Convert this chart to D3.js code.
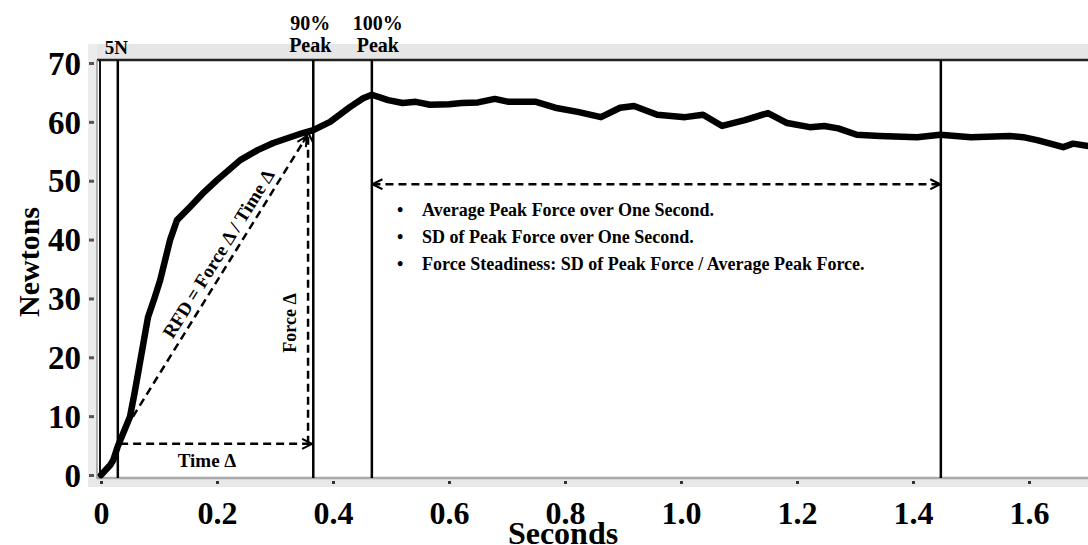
<!DOCTYPE html>
<html>
<head>
<meta charset="utf-8">
<script src="https://cdn.jsdelivr.net/npm/d3@7"></script>
<style>
  body { margin: 0; background: #fff; }
  svg { display: block; }
  text { font-family: "Liberation Serif", "Times New Roman", serif; font-weight: bold; fill: #000; }
</style>
</head>
<body>
<svg width="1088" height="545"></svg>
<script>
// force trace
const seconds = [0, 0.016, 0.021, 0.029, 0.04, 0.05, 0.058, 0.067, 0.081, 0.092, 0.102, 0.119, 0.131,
  0.153, 0.175, 0.2, 0.24, 0.27, 0.297, 0.348, 0.366, 0.395, 0.429, 0.452, 0.467, 0.495, 0.52,
  0.543, 0.567, 0.6, 0.622, 0.65, 0.679, 0.703, 0.75, 0.783, 0.822, 0.862, 0.895, 0.919, 0.959,
  1.007, 1.038, 1.071, 1.11, 1.15, 1.183, 1.222, 1.247, 1.271, 1.303, 1.343, 1.407, 1.447, 1.5,
  1.567, 1.59, 1.614, 1.64, 1.659, 1.676, 1.702];
const newtons = [0, 1.7, 2.5, 4.9, 7.5, 9.9, 14, 19, 26.8, 30, 33.1, 39.9, 43.3,
  45.5, 47.8, 50.1, 53.5, 55.2, 56.4, 58.1, 58.6, 60, 62.5, 64, 64.6, 63.7, 63.2,
  63.4, 62.9, 63, 63.2, 63.3, 63.9, 63.4, 63.4, 62.4, 61.7, 60.8, 62.4, 62.7, 61.2,
  60.8, 61.2, 59.3, 60.3, 61.5, 59.8, 59.1, 59.3, 58.9, 57.8, 57.6, 57.4, 57.8, 57.4,
  57.6, 57.4, 56.9, 56.2, 55.7, 56.3, 55.9];

const xTicks = [0, 0.2, 0.4, 0.6, 0.8, 1.0, 1.2, 1.4, 1.6];
const xTickLabels = ["0", "0.2", "0.4", "0.6", "0.8", "1.0", "1.2", "1.4", "1.6"];
const yTicks = [0, 10, 20, 30, 40, 50, 60, 70];

// vertical markers: 5N onset, 90% peak, 100% peak, peak + one second
const markerTimes = [0.029, 0.366, 0.467, 1.448];
const markerLabels = [["5N"], ["90%", "Peak"], ["100%", "Peak"], []];

const onset = { t: 0.033, n: 5.3 };
const rfdStart = { t: 0.055, n: 9.9 };
const rfdEnd = { t: 0.355, n: 57.6 };
const forceDeltaT = 0.357;
const ninetyPeak = { t: 0.364, n: 58.2 };
const windowSpan = { t0: 0.468, t1: 1.447, n: 49.4 };

const bullets = [
  "Average Peak Force over One Second.",
  "SD of Peak Force over One Second.",
  "Force Steadiness: SD of Peak Force / Average Peak Force."
];

const svg = d3.select("svg");
const x = d3.scaleLinear().domain([0, 1.7]).range([101, 1087]);
const y = d3.scaleLinear().domain([0, 70]).range([475, 63]);

// grey frame bands
svg.append("rect").attr("x", 88).attr("y", 44).attr("width", 1000).attr("height", 15).attr("fill", "#e6e6e6");
svg.append("rect").attr("x", 88).attr("y", 44).attr("width", 9).attr("height", 443).attr("fill", "#ececec");
svg.append("rect").attr("x", 88).attr("y", 479).attr("width", 1000).attr("height", 8).attr("fill", "#e8e8e8");

svg.append("line").attr("x1", 97).attr("x2", 1088).attr("y1", 60).attr("y2", 60)
  .attr("stroke", "#222").attr("stroke-width", 2.5);
svg.append("line").attr("x1", 97).attr("x2", 97).attr("y1", 60).attr("y2", 479)
  .attr("stroke", "#999").attr("stroke-width", 1.5);
svg.append("line").attr("x1", 100).attr("x2", 100).attr("y1", 60).attr("y2", 478)
  .attr("stroke", "#111").attr("stroke-width", 2);
svg.append("line").attr("x1", 97).attr("x2", 1088).attr("y1", 478).attr("y2", 478)
  .attr("stroke", "#aaa").attr("stroke-width", 2.5);

// axes
const yAxis = svg.append("g").attr("transform", "translate(94,0)")
  .call(d3.axisLeft(y).tickValues(yTicks).tickSize(5).tickPadding(8));
yAxis.select(".domain").remove();
yAxis.selectAll(".tick line").attr("stroke", "#555").attr("stroke-width", 3);
yAxis.selectAll(".tick text").style("font-size", "33px").attr("dy", "0.34em");

const xAxis = svg.append("g").attr("transform", "translate(0,481)")
  .call(d3.axisBottom(x).tickValues(xTicks).tickFormat((d, i) => xTickLabels[i]).tickSize(3).tickPadding(17));
xAxis.select(".domain").remove();
xAxis.selectAll(".tick line").attr("stroke", "#333").attr("stroke-width", 3);
xAxis.selectAll(".tick text").style("font-size", "32px");

svg.append("text").attr("x", 563).attr("y", 544).attr("text-anchor", "middle")
  .style("font-size", "32px").text("Seconds");
svg.append("text").attr("transform", "translate(39,262) rotate(-90)").attr("text-anchor", "middle")
  .style("font-size", "30px").text("Newtons");

// markers
svg.selectAll(".marker").data(markerTimes).enter().append("line")
  .attr("x1", d => x(d)).attr("x2", d => x(d)).attr("y1", 60).attr("y2", 478)
  .attr("stroke", "#000").attr("stroke-width", 2.5);

const labelOffsets = [[6, "start"], [-3, "middle"], [6, "middle"], [0, "middle"]];
markerLabels.forEach((lines, i) => {
  const [dx, anchor] = labelOffsets[i];
  const xx = i === 0 ? x(markerTimes[i]) - 13 : x(markerTimes[i]) + dx;
  lines.slice().reverse().forEach((txt, j) => {
    svg.append("text").attr("x", xx).attr("y", (i === 0 ? 54 : 52) - j * 22)
      .attr("text-anchor", anchor).style("font-size", i === 0 ? "19px" : "20px").text(txt);
  });
});

// force trace
svg.append("path")
  .datum(seconds.map((t, i) => [t, newtons[i]]))
  .attr("fill", "none").attr("stroke", "#000").attr("stroke-width", 6.5)
  .attr("stroke-linejoin", "round").attr("stroke-linecap", "round")
  .attr("d", d3.line().x(d => x(d[0])).y(d => y(d[1])));

// arrow heads
const defs = svg.append("defs");
defs.append("marker").attr("id", "head").attr("viewBox", "0 0 12 12")
  .attr("refX", 11).attr("refY", 6).attr("markerWidth", 12).attr("markerHeight", 12)
  .attr("markerUnits", "userSpaceOnUse").attr("orient", "auto-start-reverse")
  .append("path").attr("d", "M1,1 L11,6 L1,11").attr("fill", "none").attr("stroke", "#000").attr("stroke-width", 2);

function dashed(x1, y1, x2, y2, start) {
  const l = svg.append("line").attr("x1", x1).attr("y1", y1).attr("x2", x2).attr("y2", y2)
    .attr("stroke", "#000").attr("stroke-width", 2.5).attr("stroke-dasharray", "8,5")
    .attr("marker-end", "url(#head)");
  if (start) l.attr("marker-start", "url(#head)");
  return l;
}

dashed(x(onset.t), y(onset.n), x(ninetyPeak.t), y(onset.n));
dashed(x(forceDeltaT), y(onset.n), x(forceDeltaT), y(ninetyPeak.n));
dashed(x(rfdStart.t), y(rfdStart.n), x(rfdEnd.t), y(rfdEnd.n));
dashed(x(windowSpan.t0), y(windowSpan.n), x(windowSpan.t1), y(windowSpan.n), true);

// annotation text
svg.append("text").attr("x", 207).attr("y", 467).attr("text-anchor", "middle")
  .style("font-size", "19px").text("Time Δ");
const ang = Math.atan2(y(rfdEnd.n) - y(rfdStart.n), x(rfdEnd.t) - x(rfdStart.t)) * 180 / Math.PI;
svg.append("text").attr("transform", `translate(224,257) rotate(${ang})`).attr("text-anchor", "middle")
  .style("font-size", "19px").text("RFD = Force Δ / Time Δ");
svg.append("text").attr("transform", "translate(296,323) rotate(-90)").attr("text-anchor", "middle")
  .style("font-size", "18px").text("Force Δ");

const bl = svg.selectAll(".bullet").data(bullets).enter().append("g")
  .attr("transform", (d, i) => `translate(0,${216 + i * 27})`);
bl.append("text").attr("x", 397).style("font-size", "18px").text("•");
bl.append("text").attr("x", 422).style("font-size", "18px").text(d => d);
</script>
</body>
</html>
